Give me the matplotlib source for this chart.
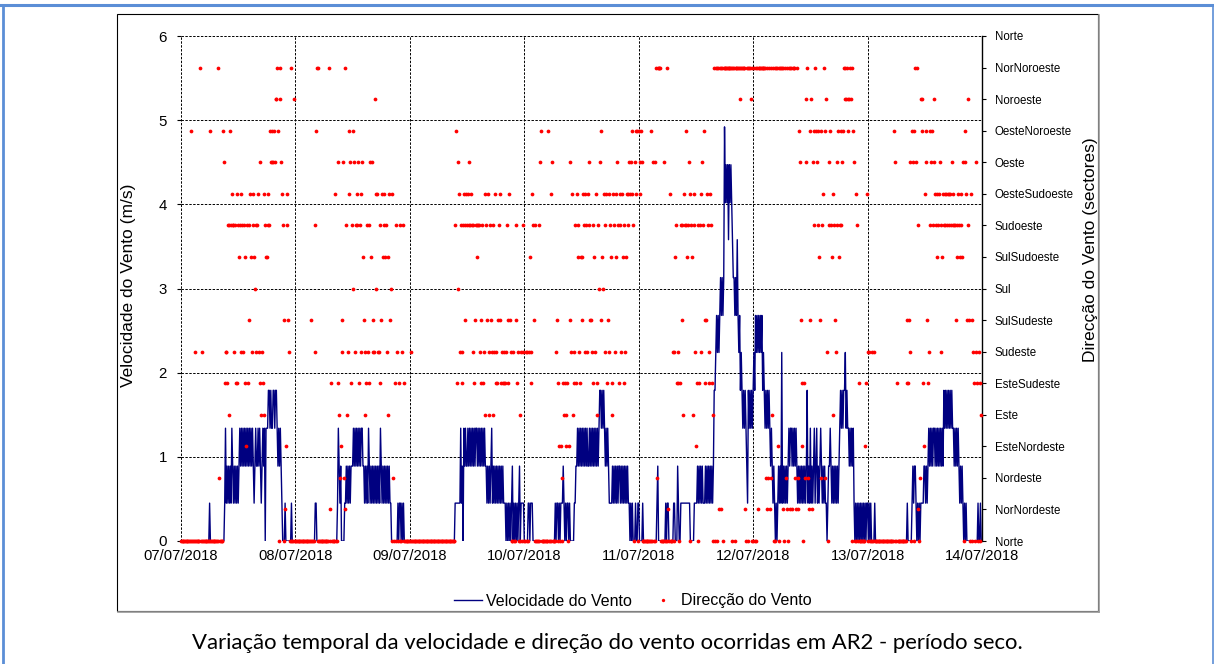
import numpy as np
import pandas as pd
import matplotlib
matplotlib.use("Agg")
import matplotlib.pyplot as plt
import matplotlib.dates as mdates
from matplotlib.lines import Line2D
from matplotlib.patches import Rectangle

plt.rcParams["font.family"] = ["Liberation Sans", "DejaVu Sans"]

# ── colours ──────────────────────────────────────────────────────────────
NAVY = "#000080"
RED = "#FF0000"
BORDER_BLUE = "#5B8ED6"

W, H = 1214, 664

# ── data: 10-minute records, 07/07/2018 00:00 onwards ──────────────────────
START = "2018-07-07"
END = "2018-07-14"

# wind speed steps of the station (m/s), coded 0..b in the strings below
SPEED_STEPS = [0.0, 0.45, 0.89, 1.34, 1.79, 2.24, 2.68, 3.13, 3.58, 4.02, 4.47, 4.92]

SECTORS = ["Norte", "NorNordeste", "Nordeste", "EsteNordeste", "Este",
           "EsteSudeste", "Sudeste", "SulSudeste", "Sul", "SulSudoeste",
           "Sudoeste", "OesteSudoeste", "Oeste", "OesteNoroeste", "Noroeste",
           "NorNoroeste", "Norte"]

DAY_LABELS = ["07/07/2018", "08/07/2018", "09/07/2018", "10/07/2018",
              "11/07/2018", "12/07/2018", "13/07/2018", "14/07/2018"]

# speed codes (index into SPEED_STEPS), one string per day, 2-hour blocks
SPEED_D1 = ("000000000000 000000000000 000000000000 100000000000 000000013121 212132121212 "
            "123232323232 323232321232 232321232303 334434334434 432323210001 000000010000")
SPEED_D2 = ("000000000000 000000000000 011000000000 000000000000 000001321200 001121212122 "
            "232323232323 322121213212 121212121213 212121212121 100000000101 101010000000")
SPEED_D3 = ("000000000000 000000000000 000000000000 000000000000 000000000111 111131203232 "
            "232323232323 323232323232 212121231212 121212121211 101010101201 010101201111")
SPEED_D4 = ("000001101110 000000000000 000000000000 000101101011 121010110100 000112232323 "
            "232323232232 323232323234 434343232321 111212121212 212121212121 101010001001")
SPEED_D5 = ("100001000000 000000000001 200000000010 110000001100 021001111111 111110000011 "
            "112121212111 212121212124 456565676767 b9a9a8a9a987 767686564543 434321434343")
SPEED_D6 = ("454656565656 454343434323 212101012121 512121212323 323232321212 121212124121 "
            "312123123121 232121211012 232121212121 234343445343 323232310101 010101010101")
SPEED_D7 = ("101010000100 000000000000 000000000000 000000000000 001000001212 210101011112 "
            "212123232323 323232323232 434343434343 323232321212 101010000000 000000010010")

# direction codes (sector index 0..g), one string per day, 2-hour blocks
DIR_D1 = ("000000000000 0d0006000000 f00600000000 0d000000000f 20000dc5665a 4adabaa6a5b5 "
          "a9ab6a6a953a 5a7b96ab986a ab6c54654ba9 9abadcdccdce efd0fecba701 3ab7600f00e0")
DIR_D2 = ("000000000000 000000070000 6adff0000000 000000f10500 00b005c42367 c2f1a46bdc5a "
          "d8c6aabc5ab6 c97465a65ac9 c676eb8b66a5 7b9ab9a694b7 80b205a0605a 006a50000000")
DIR_D3 = ("006000000000 000000000000 000000000000 000000000000 000000000ad5 c8b6a65ab7ab "
          "abacaba6a57a a9aa675a56b4 a7b64a764a6b 5657ab756565 56a75b760060 0a75600460a6")
DIR_D4 = ("0060606965ba 7a00000acd00 000000d000bc 000067053030 254543503c76 b465a5b9a659 "
          "79ba6ba6bac7 765a96b54a8c 7d98ba6b576b a945ba69bca5 ba6b95a69bab cbcbda0cdbd0")
DIR_D5 = ("dcbdc0000000 0000d0c0c0f2 ffff0000c000 f10b0006069a 56505a7a4bad a9ac0ba94ab6 "
          "350a5a6bcad7 57ba56ba504f 0f0ff1f1ff0f ffffffffff0f f0fffffeffff ff10ff0ffef0")
DIR_D6 = ("0f0f0f1fffff ffff21f2f1f2 4f0f0ff30fff f1f0f2f10f1f f1fff21f21dc 753052ecf21d "
          "7e1cdafdcad9 72dabf2de60a cda94ba76cad 9adacdfefefe defef0dc00ba 05000000035b")
DIR_D7 = ("606006006000 000000000000 000000000dc0 050000000000 057576c0dcd0 fcf1a02ede53 "
          "bdc756dacdae cbab9abc6a9b ababababbaca baa79aba9ba9 c0cdb7ae70b0 76506c506504")


def decode(*days):
    codes = "".join(days).replace(" ", "")
    return np.array([int(ch, 17) for ch in codes])


speed = np.array(SPEED_STEPS)[decode(SPEED_D1, SPEED_D2, SPEED_D3, SPEED_D4,
                                     SPEED_D5, SPEED_D6, SPEED_D7)]
direction = decode(DIR_D1, DIR_D2, DIR_D3, DIR_D4, DIR_D5, DIR_D6, DIR_D7)

t_speed = pd.date_range(START, periods=len(speed), freq="10min")
t_dir = pd.date_range(START, periods=len(direction), freq="10min")

# ── figure ───────────────────────────────────────────────────────────────
fig = plt.figure(figsize=(W / 100, H / 100), dpi=100, facecolor="white")

# page border (blue) and chart frame
fig.add_artist(Line2D([0, 1], [1 - 4.5 / H] * 2, transform=fig.transFigure,
                      color=BORDER_BLUE, lw=2.2))
fig.add_artist(Line2D([3 / W] * 2, [0, 1 - 4.5 / H], transform=fig.transFigure,
                      color=BORDER_BLUE, lw=2.0))
fig.add_artist(Line2D([1212.5 / W] * 2, [0, 1 - 4.5 / H], transform=fig.transFigure,
                      color=BORDER_BLUE, lw=1.2))
fig.add_artist(Rectangle((117 / W, 1 - 611 / H), (1098 - 117) / W, (611 - 14) / H,
                         transform=fig.transFigure, fill=False, ec="black", lw=0.8))
fig.add_artist(Line2D([118 / W, 1099 / W], [1 - 612 / H] * 2, transform=fig.transFigure,
                      color="#9A9A9A", lw=1.2))
fig.add_artist(Line2D([1099 / W] * 2, [1 - 15 / H, 1 - 612 / H], transform=fig.transFigure,
                      color="#9A9A9A", lw=1.2))

ax = fig.add_axes([181 / W, 1 - 541 / H, (982 - 181) / W, (541 - 36) / H])
ax.plot(t_speed, speed, color=NAVY, lw=1.0, zorder=3)
ax.set_xlim(pd.Timestamp(START), pd.Timestamp(END))
ax.set_ylim(0, 6)
ax.set_yticks(range(7))
ax.set_xticks(pd.date_range(START, END, freq="D"))
ax.set_xticklabels(DAY_LABELS)
ax.grid(True, color="black", ls=(0, (2.5, 1.5)), lw=0.7)
ax.set_axisbelow(True)
ax.tick_params(axis="x", length=0, pad=6, labelsize=10.6)
ax.tick_params(axis="y", length=3, width=0.8, pad=7, labelsize=10.8)
for side in ("left", "top", "bottom", "right"):
    ax.spines[side].set_visible(False)

ax2 = ax.twinx()
ax2.plot(t_dir, direction, ls="none", marker="o", ms=2.7, color=RED,
         mec="none", clip_on=False, zorder=4)
ax2.set_ylim(0, 16)
ax2.set_yticks(range(len(SECTORS)))
ax2.set_yticklabels(SECTORS)
ax2.tick_params(axis="y", length=3, width=0.8, pad=6, labelsize=8.3)
for side in ("left", "top", "bottom"):
    ax2.spines[side].set_visible(False)
ax2.spines["right"].set_color("black")
ax2.spines["right"].set_linewidth(1.0)

fig.text(128 / W, 1 - 285 / H, "Velocidade do Vento (m/s)", rotation=90,
         ha="center", va="center", fontsize=12.5)
fig.text(1090 / W, 1 - 250 / H, "Direcção do Vento (sectores)", rotation=90,
         ha="center", va="center", fontsize=12.5)

handles = [Line2D([], [], color=NAVY, lw=1.0),
           Line2D([], [], ls="none", marker="o", ms=2.4, color=RED, mec="none")]
fig.legend(handles, ["Velocidade do Vento", "Direcção do Vento"], loc="center",
           bbox_to_anchor=(633 / W, 1 - 601 / H), ncol=2, frameon=False,
           fontsize=11.5, handlelength=1.75, handletextpad=0.25, columnspacing=1.05)

fig.text(607.5 / W, 1 - 643 / H,
         "Variação temporal da velocidade e direção do vento ocorridas em AR2 - período seco.",
         ha="center", va="center", fontsize=15.9, family=["Lato", "DejaVu Sans"])

fig.savefig("out.png", dpi=100, facecolor="white")
